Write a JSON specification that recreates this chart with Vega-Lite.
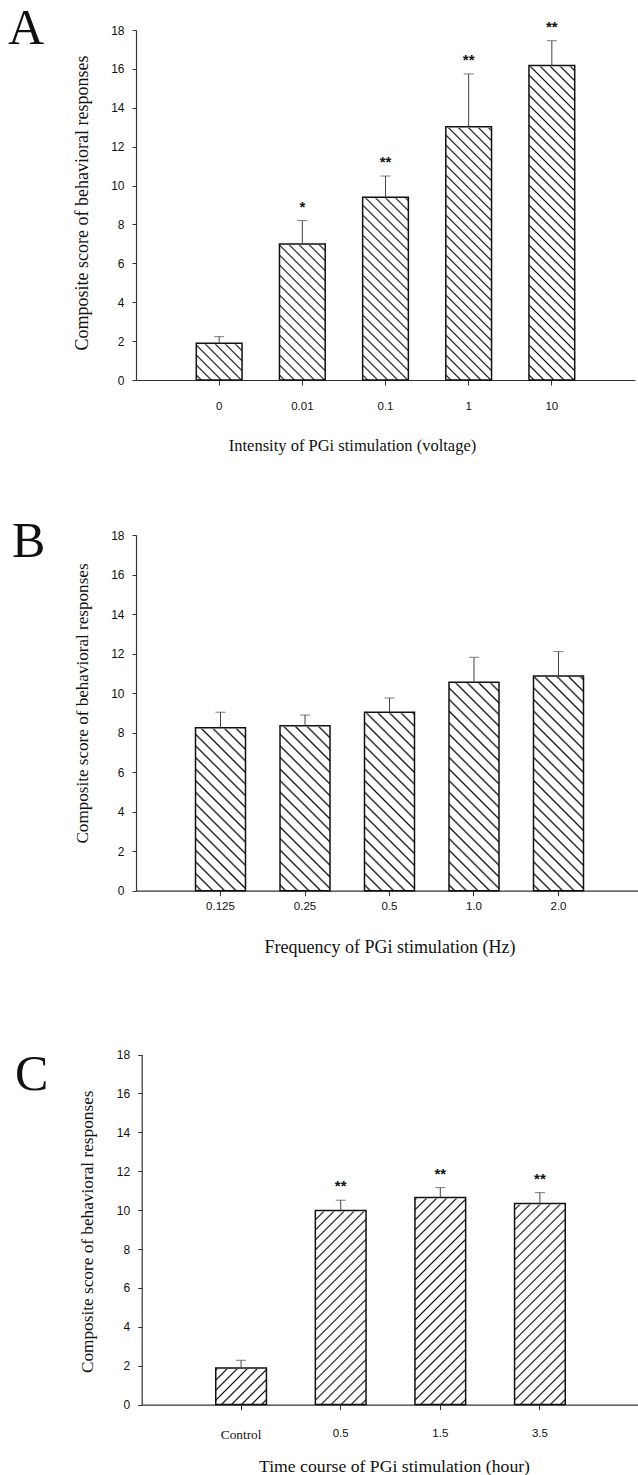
{
"$schema": "https://vega.github.io/schema/vega-lite/v6.json",
"padding": {"left": 8, "top": 3, "right": 0, "bottom": 0},
"bounds": "flush",
"spacing": 155,
"datasets": {
 "A": [
  {"group": "0", "score": 1.89, "upper": 2.23, "sig": ""},
  {"group": "0.01", "score": 7.0, "upper": 8.2, "sig": "*"},
  {"group": "0.1", "score": 9.4, "upper": 10.49, "sig": "**"},
  {"group": "1", "score": 13.03, "upper": 15.74, "sig": "**"},
  {"group": "10", "score": 16.17, "upper": 17.45, "sig": "**"}
 ],
 "B": [
  {"group": "0.125", "score": 8.25, "upper": 9.03},
  {"group": "0.25", "score": 8.35, "upper": 8.89},
  {"group": "0.5", "score": 9.03, "upper": 9.75},
  {"group": "1.0", "score": 10.55, "upper": 11.81},
  {"group": "2.0", "score": 10.87, "upper": 12.1}
 ],
 "C": [
  {"group": "Control", "score": 1.88, "upper": 2.28, "sig": ""},
  {"group": "0.5", "score": 9.98, "upper": 10.51, "sig": "**"},
  {"group": "1.5", "score": 10.65, "upper": 11.16, "sig": "**"},
  {"group": "3.5", "score": 10.34, "upper": 10.9, "sig": "**"}
 ]
},
"config": {
 "view": {"stroke": null},
 "font": "Liberation Sans",
 "axis": {"grid": false, "domainColor": "#333", "tickColor": "#333", "labelColor": "#111", "titleColor": "#111", "titleFont": "Liberation Serif", "titleFontWeight": "normal", "labelFont": "Liberation Sans", "tickSize": 5, "domainWidth": 1.2, "tickWidth": 1},
 "axisY": {"labelPadding": 8, "tickSize": 4, "labelFontSize": 12, "titleBaseline": "middle", "labelOverlap": false},
 "title": {"font": "Liberation Serif", "fontWeight": "normal", "fontSize": 50, "color": "#111", "anchor": "start", "frame": "group", "baseline": "alphabetic"}
},
"vconcat": [
 {
  "width": 499, "height": 350,
  "title": {"text": "A", "dx": -128, "offset": -34},
  "data": {"name": "A"},
  "encoding": {"x": {"field": "group", "type": "nominal", "sort": null, "scale": {"paddingInner": 0.45, "paddingOuter": 0.725}, "axis": {"title": "Intensity of PGi stimulation (voltage)", "titleFontSize": 16.5, "titleX": 216, "titleY": 65, "titleBaseline": "middle", "labelPadding": 15, "labelAngle": 0, "labelFontSize": 11.5}}},
  "layer": [
   {"mark": {"type": "bar", "stroke": null, "fill": {"gradient": "linear", "x1": 0, "y1": 1, "x2": 0.1467, "y2": -0.1235, "stops": [{"offset":0.0085,"color":"#fff"},{"offset":0.0125,"color":"#111"},{"offset":0.0165,"color":"#fff"},{"offset":0.0335,"color":"#fff"},{"offset":0.0375,"color":"#111"},{"offset":0.0415,"color":"#fff"},{"offset":0.0585,"color":"#fff"},{"offset":0.0625,"color":"#111"},{"offset":0.0665,"color":"#fff"},{"offset":0.0835,"color":"#fff"},{"offset":0.0875,"color":"#111"},{"offset":0.0915,"color":"#fff"},{"offset":0.1085,"color":"#fff"},{"offset":0.1125,"color":"#111"},{"offset":0.1165,"color":"#fff"},{"offset":0.1335,"color":"#fff"},{"offset":0.1375,"color":"#111"},{"offset":0.1415,"color":"#fff"},{"offset":0.1585,"color":"#fff"},{"offset":0.1625,"color":"#111"},{"offset":0.1665,"color":"#fff"},{"offset":0.1835,"color":"#fff"},{"offset":0.1875,"color":"#111"},{"offset":0.1915,"color":"#fff"},{"offset":0.2085,"color":"#fff"},{"offset":0.2125,"color":"#111"},{"offset":0.2165,"color":"#fff"},{"offset":0.2335,"color":"#fff"},{"offset":0.2375,"color":"#111"},{"offset":0.2415,"color":"#fff"},{"offset":0.2585,"color":"#fff"},{"offset":0.2625,"color":"#111"},{"offset":0.2665,"color":"#fff"},{"offset":0.2835,"color":"#fff"},{"offset":0.2875,"color":"#111"},{"offset":0.2915,"color":"#fff"},{"offset":0.3085,"color":"#fff"},{"offset":0.3125,"color":"#111"},{"offset":0.3165,"color":"#fff"},{"offset":0.3335,"color":"#fff"},{"offset":0.3375,"color":"#111"},{"offset":0.3415,"color":"#fff"},{"offset":0.3585,"color":"#fff"},{"offset":0.3625,"color":"#111"},{"offset":0.3665,"color":"#fff"},{"offset":0.3835,"color":"#fff"},{"offset":0.3875,"color":"#111"},{"offset":0.3915,"color":"#fff"},{"offset":0.4085,"color":"#fff"},{"offset":0.4125,"color":"#111"},{"offset":0.4165,"color":"#fff"},{"offset":0.4335,"color":"#fff"},{"offset":0.4375,"color":"#111"},{"offset":0.4415,"color":"#fff"},{"offset":0.4585,"color":"#fff"},{"offset":0.4625,"color":"#111"},{"offset":0.4665,"color":"#fff"},{"offset":0.4835,"color":"#fff"},{"offset":0.4875,"color":"#111"},{"offset":0.4915,"color":"#fff"},{"offset":0.5085,"color":"#fff"},{"offset":0.5125,"color":"#111"},{"offset":0.5165,"color":"#fff"},{"offset":0.5335,"color":"#fff"},{"offset":0.5375,"color":"#111"},{"offset":0.5415,"color":"#fff"},{"offset":0.5585,"color":"#fff"},{"offset":0.5625,"color":"#111"},{"offset":0.5665,"color":"#fff"},{"offset":0.5835,"color":"#fff"},{"offset":0.5875,"color":"#111"},{"offset":0.5915,"color":"#fff"},{"offset":0.6085,"color":"#fff"},{"offset":0.6125,"color":"#111"},{"offset":0.6165,"color":"#fff"},{"offset":0.6335,"color":"#fff"},{"offset":0.6375,"color":"#111"},{"offset":0.6415,"color":"#fff"},{"offset":0.6585,"color":"#fff"},{"offset":0.6625,"color":"#111"},{"offset":0.6665,"color":"#fff"},{"offset":0.6835,"color":"#fff"},{"offset":0.6875,"color":"#111"},{"offset":0.6915,"color":"#fff"},{"offset":0.7085,"color":"#fff"},{"offset":0.7125,"color":"#111"},{"offset":0.7165,"color":"#fff"},{"offset":0.7335,"color":"#fff"},{"offset":0.7375,"color":"#111"},{"offset":0.7415,"color":"#fff"},{"offset":0.7585,"color":"#fff"},{"offset":0.7625,"color":"#111"},{"offset":0.7665,"color":"#fff"},{"offset":0.7835,"color":"#fff"},{"offset":0.7875,"color":"#111"},{"offset":0.7915,"color":"#fff"},{"offset":0.8085,"color":"#fff"},{"offset":0.8125,"color":"#111"},{"offset":0.8165,"color":"#fff"},{"offset":0.8335,"color":"#fff"},{"offset":0.8375,"color":"#111"},{"offset":0.8415,"color":"#fff"},{"offset":0.8585,"color":"#fff"},{"offset":0.8625,"color":"#111"},{"offset":0.8665,"color":"#fff"},{"offset":0.8835,"color":"#fff"},{"offset":0.8875,"color":"#111"},{"offset":0.8915,"color":"#fff"},{"offset":0.9085,"color":"#fff"},{"offset":0.9125,"color":"#111"},{"offset":0.9165,"color":"#fff"},{"offset":0.9335,"color":"#fff"},{"offset":0.9375,"color":"#111"},{"offset":0.9415,"color":"#fff"},{"offset":0.9585,"color":"#fff"},{"offset":0.9625,"color":"#111"},{"offset":0.9665,"color":"#fff"},{"offset":0.9835,"color":"#fff"},{"offset":0.9875,"color":"#111"},{"offset":0.9915,"color":"#fff"}]}},
    "encoding": {"y": {"datum": 0, "type": "quantitative", "scale": {"domain": [0, 18], "nice": false}, "axis": {"title": "Composite score of behavioral responses", "titleFontSize": 18, "titleX": -54, "titleY": 172.5, "values": [0, 2, 4, 6, 8, 10, 12, 14, 16, 18]}}, "y2": {"datum": 18}}},
   {"mark": {"type": "bar", "fill": "white", "stroke": "white", "strokeWidth": 2}, "encoding": {"y": {"field": "score", "type": "quantitative", "axis": {"title": "Composite score of behavioral responses", "titleFontSize": 18, "titleX": -54, "titleY": 172.5, "values": [0, 2, 4, 6, 8, 10, 12, 14, 16, 18]}}, "y2": {"datum": 18}}},
   {"mark": {"type": "bar", "filled": false, "color": "#111", "strokeWidth": 1.5}, "encoding": {"y": {"field": "score", "type": "quantitative", "axis": {"title": "Composite score of behavioral responses", "titleFontSize": 18, "titleX": -54, "titleY": 172.5, "values": [0, 2, 4, 6, 8, 10, 12, 14, 16, 18]}}}},
   {"mark": {"type": "rule", "color": "#444", "strokeWidth": 1}, "encoding": {"y": {"field": "score", "type": "quantitative", "axis": {"title": "Composite score of behavioral responses", "titleFontSize": 18, "titleX": -54, "titleY": 172.5, "values": [0, 2, 4, 6, 8, 10, 12, 14, 16, 18]}}, "y2": {"field": "upper"}}},
   {"mark": {"type": "tick", "color": "#444", "thickness": 1, "size": 10}, "encoding": {"y": {"field": "upper", "type": "quantitative", "axis": {"title": "Composite score of behavioral responses", "titleFontSize": 18, "titleX": -54, "titleY": 172.5, "values": [0, 2, 4, 6, 8, 10, 12, 14, 16, 18]}}}},
   {"mark": {"type": "text", "dy": -14, "fontSize": 15, "fontWeight": "bold", "font": "Liberation Sans", "color": "#111"}, "encoding": {"y": {"field": "upper", "type": "quantitative", "axis": {"title": "Composite score of behavioral responses", "titleFontSize": 18, "titleX": -54, "titleY": 172.5, "values": [0, 2, 4, 6, 8, 10, 12, 14, 16, 18]}}, "text": {"field": "sig"}}}
  ]
 },
 {
  "width": 507, "height": 355.7,
  "title": {"text": "B", "dx": -124, "offset": -38},
  "data": {"name": "B"},
  "encoding": {"x": {"field": "group", "type": "nominal", "sort": null, "scale": {"paddingInner": 0.4083, "paddingOuter": 0.7042}, "axis": {"title": "Frequency of PGi stimulation (Hz)", "titleFontSize": 18, "titleY": 57, "titleBaseline": "middle", "labelPadding": 5, "labelAngle": 0, "labelFontSize": 11.5}}},
  "layer": [
   {"mark": {"type": "bar", "stroke": null, "fill": {"gradient": "linear", "x1": 0, "y1": 1, "x2": 0.1797, "y2": -0.2787, "stops": [{"offset":0.0085,"color":"#fff"},{"offset":0.0125,"color":"#111"},{"offset":0.0165,"color":"#fff"},{"offset":0.0335,"color":"#fff"},{"offset":0.0375,"color":"#111"},{"offset":0.0415,"color":"#fff"},{"offset":0.0585,"color":"#fff"},{"offset":0.0625,"color":"#111"},{"offset":0.0665,"color":"#fff"},{"offset":0.0835,"color":"#fff"},{"offset":0.0875,"color":"#111"},{"offset":0.0915,"color":"#fff"},{"offset":0.1085,"color":"#fff"},{"offset":0.1125,"color":"#111"},{"offset":0.1165,"color":"#fff"},{"offset":0.1335,"color":"#fff"},{"offset":0.1375,"color":"#111"},{"offset":0.1415,"color":"#fff"},{"offset":0.1585,"color":"#fff"},{"offset":0.1625,"color":"#111"},{"offset":0.1665,"color":"#fff"},{"offset":0.1835,"color":"#fff"},{"offset":0.1875,"color":"#111"},{"offset":0.1915,"color":"#fff"},{"offset":0.2085,"color":"#fff"},{"offset":0.2125,"color":"#111"},{"offset":0.2165,"color":"#fff"},{"offset":0.2335,"color":"#fff"},{"offset":0.2375,"color":"#111"},{"offset":0.2415,"color":"#fff"},{"offset":0.2585,"color":"#fff"},{"offset":0.2625,"color":"#111"},{"offset":0.2665,"color":"#fff"},{"offset":0.2835,"color":"#fff"},{"offset":0.2875,"color":"#111"},{"offset":0.2915,"color":"#fff"},{"offset":0.3085,"color":"#fff"},{"offset":0.3125,"color":"#111"},{"offset":0.3165,"color":"#fff"},{"offset":0.3335,"color":"#fff"},{"offset":0.3375,"color":"#111"},{"offset":0.3415,"color":"#fff"},{"offset":0.3585,"color":"#fff"},{"offset":0.3625,"color":"#111"},{"offset":0.3665,"color":"#fff"},{"offset":0.3835,"color":"#fff"},{"offset":0.3875,"color":"#111"},{"offset":0.3915,"color":"#fff"},{"offset":0.4085,"color":"#fff"},{"offset":0.4125,"color":"#111"},{"offset":0.4165,"color":"#fff"},{"offset":0.4335,"color":"#fff"},{"offset":0.4375,"color":"#111"},{"offset":0.4415,"color":"#fff"},{"offset":0.4585,"color":"#fff"},{"offset":0.4625,"color":"#111"},{"offset":0.4665,"color":"#fff"},{"offset":0.4835,"color":"#fff"},{"offset":0.4875,"color":"#111"},{"offset":0.4915,"color":"#fff"},{"offset":0.5085,"color":"#fff"},{"offset":0.5125,"color":"#111"},{"offset":0.5165,"color":"#fff"},{"offset":0.5335,"color":"#fff"},{"offset":0.5375,"color":"#111"},{"offset":0.5415,"color":"#fff"},{"offset":0.5585,"color":"#fff"},{"offset":0.5625,"color":"#111"},{"offset":0.5665,"color":"#fff"},{"offset":0.5835,"color":"#fff"},{"offset":0.5875,"color":"#111"},{"offset":0.5915,"color":"#fff"},{"offset":0.6085,"color":"#fff"},{"offset":0.6125,"color":"#111"},{"offset":0.6165,"color":"#fff"},{"offset":0.6335,"color":"#fff"},{"offset":0.6375,"color":"#111"},{"offset":0.6415,"color":"#fff"},{"offset":0.6585,"color":"#fff"},{"offset":0.6625,"color":"#111"},{"offset":0.6665,"color":"#fff"},{"offset":0.6835,"color":"#fff"},{"offset":0.6875,"color":"#111"},{"offset":0.6915,"color":"#fff"},{"offset":0.7085,"color":"#fff"},{"offset":0.7125,"color":"#111"},{"offset":0.7165,"color":"#fff"},{"offset":0.7335,"color":"#fff"},{"offset":0.7375,"color":"#111"},{"offset":0.7415,"color":"#fff"},{"offset":0.7585,"color":"#fff"},{"offset":0.7625,"color":"#111"},{"offset":0.7665,"color":"#fff"},{"offset":0.7835,"color":"#fff"},{"offset":0.7875,"color":"#111"},{"offset":0.7915,"color":"#fff"},{"offset":0.8085,"color":"#fff"},{"offset":0.8125,"color":"#111"},{"offset":0.8165,"color":"#fff"},{"offset":0.8335,"color":"#fff"},{"offset":0.8375,"color":"#111"},{"offset":0.8415,"color":"#fff"},{"offset":0.8585,"color":"#fff"},{"offset":0.8625,"color":"#111"},{"offset":0.8665,"color":"#fff"},{"offset":0.8835,"color":"#fff"},{"offset":0.8875,"color":"#111"},{"offset":0.8915,"color":"#fff"},{"offset":0.9085,"color":"#fff"},{"offset":0.9125,"color":"#111"},{"offset":0.9165,"color":"#fff"},{"offset":0.9335,"color":"#fff"},{"offset":0.9375,"color":"#111"},{"offset":0.9415,"color":"#fff"},{"offset":0.9585,"color":"#fff"},{"offset":0.9625,"color":"#111"},{"offset":0.9665,"color":"#fff"},{"offset":0.9835,"color":"#fff"},{"offset":0.9875,"color":"#111"},{"offset":0.9915,"color":"#fff"}]}},
    "encoding": {"y": {"datum": 0, "type": "quantitative", "scale": {"domain": [0, 18], "nice": false}, "axis": {"title": "Composite score of behavioral responses", "titleFontSize": 17.1, "titleX": -54, "titleY": 168, "values": [0, 2, 4, 6, 8, 10, 12, 14, 16, 18]}}, "y2": {"datum": 18}}},
   {"mark": {"type": "bar", "fill": "white", "stroke": "white", "strokeWidth": 2}, "encoding": {"y": {"field": "score", "type": "quantitative", "axis": {"title": "Composite score of behavioral responses", "titleFontSize": 17.1, "titleX": -54, "titleY": 168, "values": [0, 2, 4, 6, 8, 10, 12, 14, 16, 18]}}, "y2": {"datum": 18}}},
   {"mark": {"type": "bar", "filled": false, "color": "#111", "strokeWidth": 1.5}, "encoding": {"y": {"field": "score", "type": "quantitative", "axis": {"title": "Composite score of behavioral responses", "titleFontSize": 17.1, "titleX": -54, "titleY": 168, "values": [0, 2, 4, 6, 8, 10, 12, 14, 16, 18]}}}},
   {"mark": {"type": "rule", "color": "#444", "strokeWidth": 1}, "encoding": {"y": {"field": "score", "type": "quantitative", "axis": {"title": "Composite score of behavioral responses", "titleFontSize": 17.1, "titleX": -54, "titleY": 168, "values": [0, 2, 4, 6, 8, 10, 12, 14, 16, 18]}}, "y2": {"field": "upper"}}},
   {"mark": {"type": "tick", "color": "#444", "thickness": 1, "size": 10}, "encoding": {"y": {"field": "upper", "type": "quantitative", "axis": {"title": "Composite score of behavioral responses", "titleFontSize": 17.1, "titleX": -54, "titleY": 168, "values": [0, 2, 4, 6, 8, 10, 12, 14, 16, 18]}}}}
  ]
 },
 {
  "width": 504, "height": 358.6,
  "title": {"text": "C", "dx": -121, "offset": -54.3},
  "data": {"name": "C"},
  "encoding": {"x": {"field": "group", "type": "nominal", "sort": null, "scale": {"range": [5.5, 503.5], "paddingInner": 0.491, "paddingOuter": 0.7455}, "axis": {"title": "Time course of PGi stimulation (hour)", "titleFontSize": 17.7, "titleX": 258, "titleY": 61.4, "titleBaseline": "middle", "labelPadding": 18, "labelAngle": 0, "labelFontSize": {"condition": {"test": "datum.value == 'Control'", "value": 13.3}, "value": 11.5}, "labelFont": {"condition": {"test": "datum.value == 'Control'", "value": "Liberation Serif"}, "value": "Liberation Sans"}}}},
  "layer": [
   {"mark": {"type": "bar", "stroke": null, "fill": {"gradient": "linear", "x1": 0, "y1": 0, "x2": 0.1624, "y2": 1.1213, "stops": [{"offset":0.0085,"color":"#fff"},{"offset":0.0125,"color":"#111"},{"offset":0.0165,"color":"#fff"},{"offset":0.0335,"color":"#fff"},{"offset":0.0375,"color":"#111"},{"offset":0.0415,"color":"#fff"},{"offset":0.0585,"color":"#fff"},{"offset":0.0625,"color":"#111"},{"offset":0.0665,"color":"#fff"},{"offset":0.0835,"color":"#fff"},{"offset":0.0875,"color":"#111"},{"offset":0.0915,"color":"#fff"},{"offset":0.1085,"color":"#fff"},{"offset":0.1125,"color":"#111"},{"offset":0.1165,"color":"#fff"},{"offset":0.1335,"color":"#fff"},{"offset":0.1375,"color":"#111"},{"offset":0.1415,"color":"#fff"},{"offset":0.1585,"color":"#fff"},{"offset":0.1625,"color":"#111"},{"offset":0.1665,"color":"#fff"},{"offset":0.1835,"color":"#fff"},{"offset":0.1875,"color":"#111"},{"offset":0.1915,"color":"#fff"},{"offset":0.2085,"color":"#fff"},{"offset":0.2125,"color":"#111"},{"offset":0.2165,"color":"#fff"},{"offset":0.2335,"color":"#fff"},{"offset":0.2375,"color":"#111"},{"offset":0.2415,"color":"#fff"},{"offset":0.2585,"color":"#fff"},{"offset":0.2625,"color":"#111"},{"offset":0.2665,"color":"#fff"},{"offset":0.2835,"color":"#fff"},{"offset":0.2875,"color":"#111"},{"offset":0.2915,"color":"#fff"},{"offset":0.3085,"color":"#fff"},{"offset":0.3125,"color":"#111"},{"offset":0.3165,"color":"#fff"},{"offset":0.3335,"color":"#fff"},{"offset":0.3375,"color":"#111"},{"offset":0.3415,"color":"#fff"},{"offset":0.3585,"color":"#fff"},{"offset":0.3625,"color":"#111"},{"offset":0.3665,"color":"#fff"},{"offset":0.3835,"color":"#fff"},{"offset":0.3875,"color":"#111"},{"offset":0.3915,"color":"#fff"},{"offset":0.4085,"color":"#fff"},{"offset":0.4125,"color":"#111"},{"offset":0.4165,"color":"#fff"},{"offset":0.4335,"color":"#fff"},{"offset":0.4375,"color":"#111"},{"offset":0.4415,"color":"#fff"},{"offset":0.4585,"color":"#fff"},{"offset":0.4625,"color":"#111"},{"offset":0.4665,"color":"#fff"},{"offset":0.4835,"color":"#fff"},{"offset":0.4875,"color":"#111"},{"offset":0.4915,"color":"#fff"},{"offset":0.5085,"color":"#fff"},{"offset":0.5125,"color":"#111"},{"offset":0.5165,"color":"#fff"},{"offset":0.5335,"color":"#fff"},{"offset":0.5375,"color":"#111"},{"offset":0.5415,"color":"#fff"},{"offset":0.5585,"color":"#fff"},{"offset":0.5625,"color":"#111"},{"offset":0.5665,"color":"#fff"},{"offset":0.5835,"color":"#fff"},{"offset":0.5875,"color":"#111"},{"offset":0.5915,"color":"#fff"},{"offset":0.6085,"color":"#fff"},{"offset":0.6125,"color":"#111"},{"offset":0.6165,"color":"#fff"},{"offset":0.6335,"color":"#fff"},{"offset":0.6375,"color":"#111"},{"offset":0.6415,"color":"#fff"},{"offset":0.6585,"color":"#fff"},{"offset":0.6625,"color":"#111"},{"offset":0.6665,"color":"#fff"},{"offset":0.6835,"color":"#fff"},{"offset":0.6875,"color":"#111"},{"offset":0.6915,"color":"#fff"},{"offset":0.7085,"color":"#fff"},{"offset":0.7125,"color":"#111"},{"offset":0.7165,"color":"#fff"},{"offset":0.7335,"color":"#fff"},{"offset":0.7375,"color":"#111"},{"offset":0.7415,"color":"#fff"},{"offset":0.7585,"color":"#fff"},{"offset":0.7625,"color":"#111"},{"offset":0.7665,"color":"#fff"},{"offset":0.7835,"color":"#fff"},{"offset":0.7875,"color":"#111"},{"offset":0.7915,"color":"#fff"},{"offset":0.8085,"color":"#fff"},{"offset":0.8125,"color":"#111"},{"offset":0.8165,"color":"#fff"},{"offset":0.8335,"color":"#fff"},{"offset":0.8375,"color":"#111"},{"offset":0.8415,"color":"#fff"},{"offset":0.8585,"color":"#fff"},{"offset":0.8625,"color":"#111"},{"offset":0.8665,"color":"#fff"},{"offset":0.8835,"color":"#fff"},{"offset":0.8875,"color":"#111"},{"offset":0.8915,"color":"#fff"},{"offset":0.9085,"color":"#fff"},{"offset":0.9125,"color":"#111"},{"offset":0.9165,"color":"#fff"},{"offset":0.9335,"color":"#fff"},{"offset":0.9375,"color":"#111"},{"offset":0.9415,"color":"#fff"},{"offset":0.9585,"color":"#fff"},{"offset":0.9625,"color":"#111"},{"offset":0.9665,"color":"#fff"},{"offset":0.9835,"color":"#fff"},{"offset":0.9875,"color":"#111"},{"offset":0.9915,"color":"#fff"}]}},
    "encoding": {"y": {"datum": 0, "type": "quantitative", "scale": {"domain": [0, 18], "nice": false, "range": [358.6, 8.6]}, "axis": {"title": "Composite score of behavioral responses", "titleFontSize": 17.25, "titleX": -54.7, "titleY": 185.3, "values": [0, 2, 4, 6, 8, 10, 12, 14, 16, 18], "offset": -5.7}}, "y2": {"datum": 18}}},
   {"mark": {"type": "bar", "fill": "white", "stroke": "white", "strokeWidth": 2}, "encoding": {"y": {"field": "score", "type": "quantitative", "axis": {"title": "Composite score of behavioral responses", "titleFontSize": 17.25, "titleX": -54.7, "titleY": 185.3, "values": [0, 2, 4, 6, 8, 10, 12, 14, 16, 18], "offset": -5.7}}, "y2": {"datum": 18}}},
   {"mark": {"type": "bar", "filled": false, "color": "#111", "strokeWidth": 1.5}, "encoding": {"y": {"field": "score", "type": "quantitative", "axis": {"title": "Composite score of behavioral responses", "titleFontSize": 17.25, "titleX": -54.7, "titleY": 185.3, "values": [0, 2, 4, 6, 8, 10, 12, 14, 16, 18], "offset": -5.7}}}},
   {"mark": {"type": "rule", "color": "#444", "strokeWidth": 1}, "encoding": {"y": {"field": "score", "type": "quantitative", "axis": {"title": "Composite score of behavioral responses", "titleFontSize": 17.25, "titleX": -54.7, "titleY": 185.3, "values": [0, 2, 4, 6, 8, 10, 12, 14, 16, 18], "offset": -5.7}}, "y2": {"field": "upper"}}},
   {"mark": {"type": "tick", "color": "#444", "thickness": 1, "size": 10}, "encoding": {"y": {"field": "upper", "type": "quantitative", "axis": {"title": "Composite score of behavioral responses", "titleFontSize": 17.25, "titleX": -54.7, "titleY": 185.3, "values": [0, 2, 4, 6, 8, 10, 12, 14, 16, 18], "offset": -5.7}}}},
   {"mark": {"type": "text", "dy": -14, "fontSize": 15, "fontWeight": "bold", "font": "Liberation Sans", "color": "#111"}, "encoding": {"y": {"field": "upper", "type": "quantitative", "axis": {"title": "Composite score of behavioral responses", "titleFontSize": 17.25, "titleX": -54.7, "titleY": 185.3, "values": [0, 2, 4, 6, 8, 10, 12, 14, 16, 18], "offset": -5.7}}, "text": {"field": "sig"}}}
  ]
 }
]
}
